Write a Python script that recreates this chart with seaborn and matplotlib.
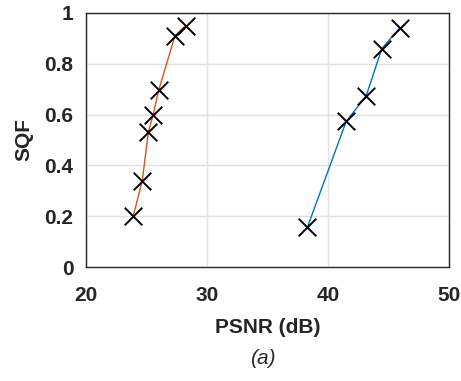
import matplotlib
matplotlib.use("Agg")
import matplotlib.pyplot as plt
import seaborn as sns
import pandas as pd

psnr_a = [23.9, 24.65, 25.15, 25.55, 26.0, 27.35, 28.25]
sqf_a = [0.20, 0.34, 0.53, 0.60, 0.695, 0.91, 0.95]
psnr_b = [38.3, 41.5, 43.15, 44.45, 45.95]
sqf_b = [0.157, 0.573, 0.673, 0.86, 0.942]
xticks = [20, 30, 40, 50]
yticks = [0, 0.2, 0.4, 0.6, 0.8, 1]
ytick_labels = ["0", "0.2", "0.4", "0.6", "0.8", "1"]

sns.set_theme(style="whitegrid")
plt.rcParams['font.family'] = ['Liberation Sans', 'DejaVu Sans']

df_a = pd.DataFrame({"x": psnr_a, "y": sqf_a})
df_b = pd.DataFrame({"x": psnr_b, "y": sqf_b})

fig = plt.figure(figsize=(4.61, 3.81), dpi=100)
ax = fig.add_axes([0.1866, 0.2992, 0.974 - 0.1866, 0.9659 - 0.2992])
ax.set_facecolor("white")

sns.lineplot(data=df_a, x="x", y="y", color="#D95319", lw=1.0, sort=False, ax=ax)
sns.lineplot(data=df_b, x="x", y="y", color="#0072BD", lw=1.0, sort=False, ax=ax)
sns.scatterplot(data=df_a, x="x", y="y", marker="x", color="black", s=160, linewidth=1.4, ax=ax, zorder=5)
sns.scatterplot(data=df_b, x="x", y="y", marker="x", color="black", s=160, linewidth=1.4, ax=ax, zorder=5)

ax.set_xlim(20, 50)
ax.set_ylim(0, 1)
ax.set_xticks(xticks)
ax.set_yticks(yticks)
ax.set_yticklabels(ytick_labels)
ax.grid(True, color="#e0e0e0", lw=1.0)
for s in ax.spines.values():
    s.set_visible(True)
    s.set_color("#262626")
    s.set_linewidth(1.0)
ax.tick_params(direction="in", length=4, width=0.8, color="#262626",
               labelsize=15, labelcolor="#262626")
ax.tick_params(axis="x", pad=14)
ax.tick_params(axis="y", pad=9)
for lbl in ax.get_xticklabels() + ax.get_yticklabels():
    lbl.set_fontweight("bold")
ax.set_xlabel("PSNR (dB)", fontsize=15, fontweight="bold", color="#262626", labelpad=9)
ax.set_ylabel("SQF", fontsize=15, fontweight="bold", color="#262626", labelpad=8)
fig.text(0.571, 0.06, "(a)", fontsize=15, style="italic", ha="center", va="center", color="#262626")

fig.savefig("out.png", dpi=100)
